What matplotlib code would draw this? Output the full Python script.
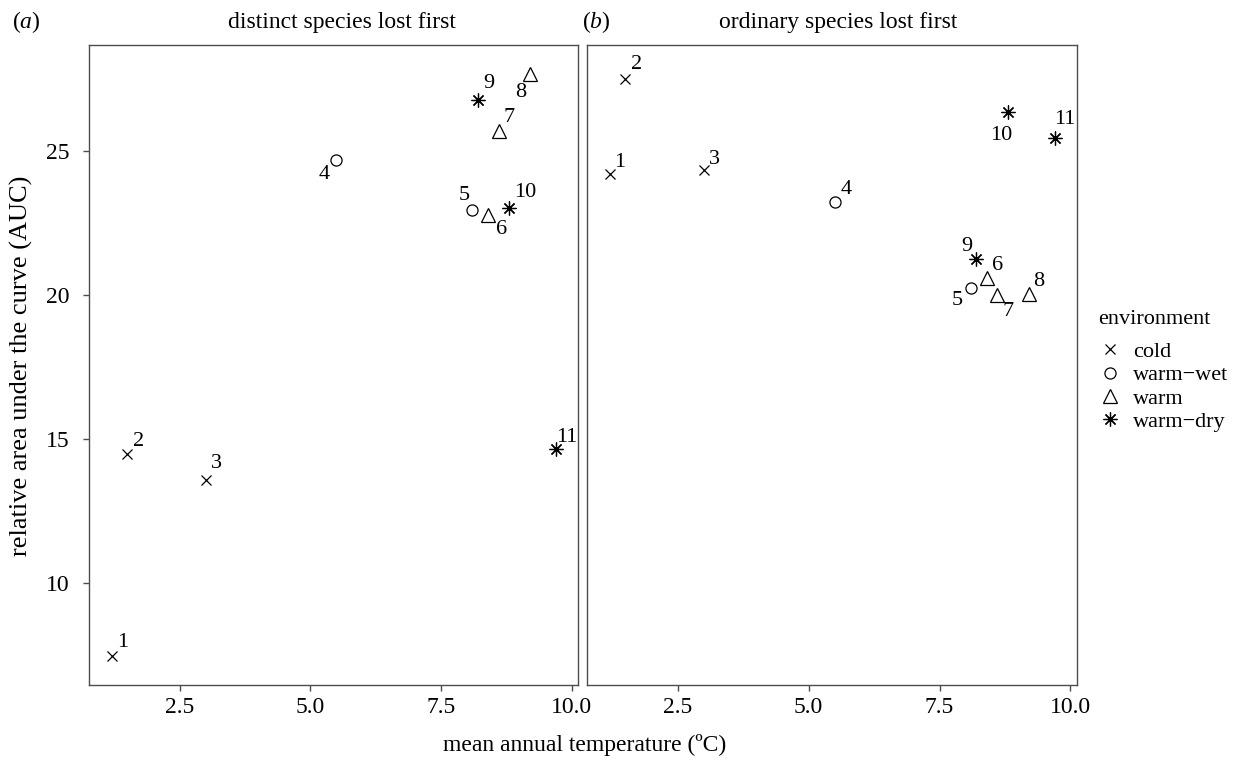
import matplotlib
matplotlib.use("Agg")
import matplotlib.pyplot as plt
from matplotlib.lines import Line2D

plt.rcParams['font.family'] = ['Liberation Serif', 'DejaVu Serif']
plt.rcParams['mathtext.fontset'] = 'custom'
plt.rcParams['mathtext.rm'] = 'Liberation Serif'
plt.rcParams['mathtext.it'] = 'Liberation Serif:italic'

# site data
sites = [1, 2, 3, 4, 5, 6, 7, 8, 9, 10, 11]
temperature = [1.2, 1.5, 3.0, 5.5, 8.1, 8.4, 8.6, 9.2, 8.2, 8.8, 9.7]
environment = ["cold", "cold", "cold", "warm-wet", "warm-wet", "warm", "warm", "warm",
               "warm-dry", "warm-dry", "warm-dry"]
auc_distinct = [7.48, 14.49, 13.59, 24.67, 22.94, 22.76, 25.66, 27.65, 26.75, 23.0, 14.66]
auc_ordinary = [24.18, 27.49, 24.32, 23.2, 20.22, 20.57, 19.98, 20.01, 21.23, 26.32, 25.42]

env_order = ["cold", "warm-wet", "warm", "warm-dry"]
env_labels = ["cold", "warm\u2212wet", "warm", "warm\u2212dry"]
markers = {"cold": ("x", 7.5), "warm-wet": ("o", 8), "warm": ("^", 10.5), "warm-dry": ((8, 2, 0), 10)}

# label offsets in pixels (dx, dy), screen y downward
offs_a = [(11, -13), (11, -12), (11, -16), (-12, 14), (-8, -14), (13, 14), (11, -14),
          (-9, 18), (11, -17), (16, -16), (11, -11)]
offs_b = [(10, -12), (11, -14), (11, -11), (11, -13), (-14, 12), (11, -13), (11, 16),
          (10, -13), (-9, -13), (-6, 23), (10, -19)]

fig = plt.figure(figsize=(12.49, 7.6), dpi=100)
ax1 = fig.add_axes([0.0715, 0.0987, 0.3915, 0.8421])
ax2 = fig.add_axes([0.4702, 0.0987, 0.3921, 0.8421], sharey=ax1)

allv = auc_distinct + auc_ordinary
ypad = (max(allv) - min(allv)) * 0.05
xpad = (max(temperature) - min(temperature)) * 0.05

def draw_panel(ax, yvals, offs):
    for env in env_order:
        xs = [t for t, e in zip(temperature, environment) if e == env]
        ys = [v for v, e in zip(yvals, environment) if e == env]
        m, ms = markers[env]
        ax.plot(xs, ys, linestyle="none", marker=m, markersize=ms, color="black",
                markerfacecolor="none", markeredgewidth=0.9)
    for s, x, y, (dx, dy) in zip(sites, temperature, yvals, offs):
        ax.annotate(str(s), (x, y), xytext=(dx, -dy), textcoords="offset pixels",
                    ha="center", va="center", fontsize=16)
    ax.set_xlim(min(temperature) - xpad, max(temperature) + xpad)
    ax.set_ylim(min(allv) - ypad, max(allv) + ypad)
    ax.set_xticks([2.5, 5.0, 7.5, 10.0])
    ax.set_xticklabels(["2.5", "5.0", "7.5", "10.0"])
    for sp in ax.spines.values():
        sp.set_color("#4d4d4d")
        sp.set_linewidth(1.0)
    ax.tick_params(colors="#4d4d4d", labelcolor="black", labelsize=17, length=4, width=1, pad=5)

draw_panel(ax1, auc_distinct, offs_a)
draw_panel(ax2, auc_ordinary, offs_b)
ax1.set_yticks([10, 15, 20, 25])
ax1.tick_params(axis="y", pad=10)
ax2.tick_params(axis="y", left=False, labelleft=False)

fig.text(26 / 1249, 0.971, r"$(\mathit{a})$", ha="center", va="center", fontsize=17)
fig.text(342 / 1249, 0.971, "distinct species lost first", ha="center", va="center", fontsize=17)
fig.text(596 / 1249, 0.971, r"$(\mathit{b})$", ha="center", va="center", fontsize=17)
fig.text(838 / 1249, 0.971, "ordinary species lost first", ha="center", va="center", fontsize=17)
fig.text(585 / 1249, 0.02, "mean annual temperature (ºC)", ha="center", va="center", fontsize=17)
fig.text(21 / 1249, 1 - 366 / 760, "relative area under the curve (AUC)", ha="center",
         va="center", rotation=90, fontsize=19)

# legend: title as separate text so it sits a little above the keys
fig.text(1098 / 1249, 1 - 319 / 760, "environment", ha="left", va="center", fontsize=16)
handles = [Line2D([], [], linestyle="none", marker=markers[e][0], markersize=markers[e][1],
                  color="black", markerfacecolor="none", markeredgewidth=0.9) for e in env_order]
leg = fig.legend(handles, env_labels, loc="upper left",
                 bbox_to_anchor=(1086 / 1249, 1 - 326 / 760), frameon=False, fontsize=16,
                 handlelength=0.8, handletextpad=0.6, labelspacing=0.12, borderpad=0.2)

fig.savefig("out.png", dpi=100)
